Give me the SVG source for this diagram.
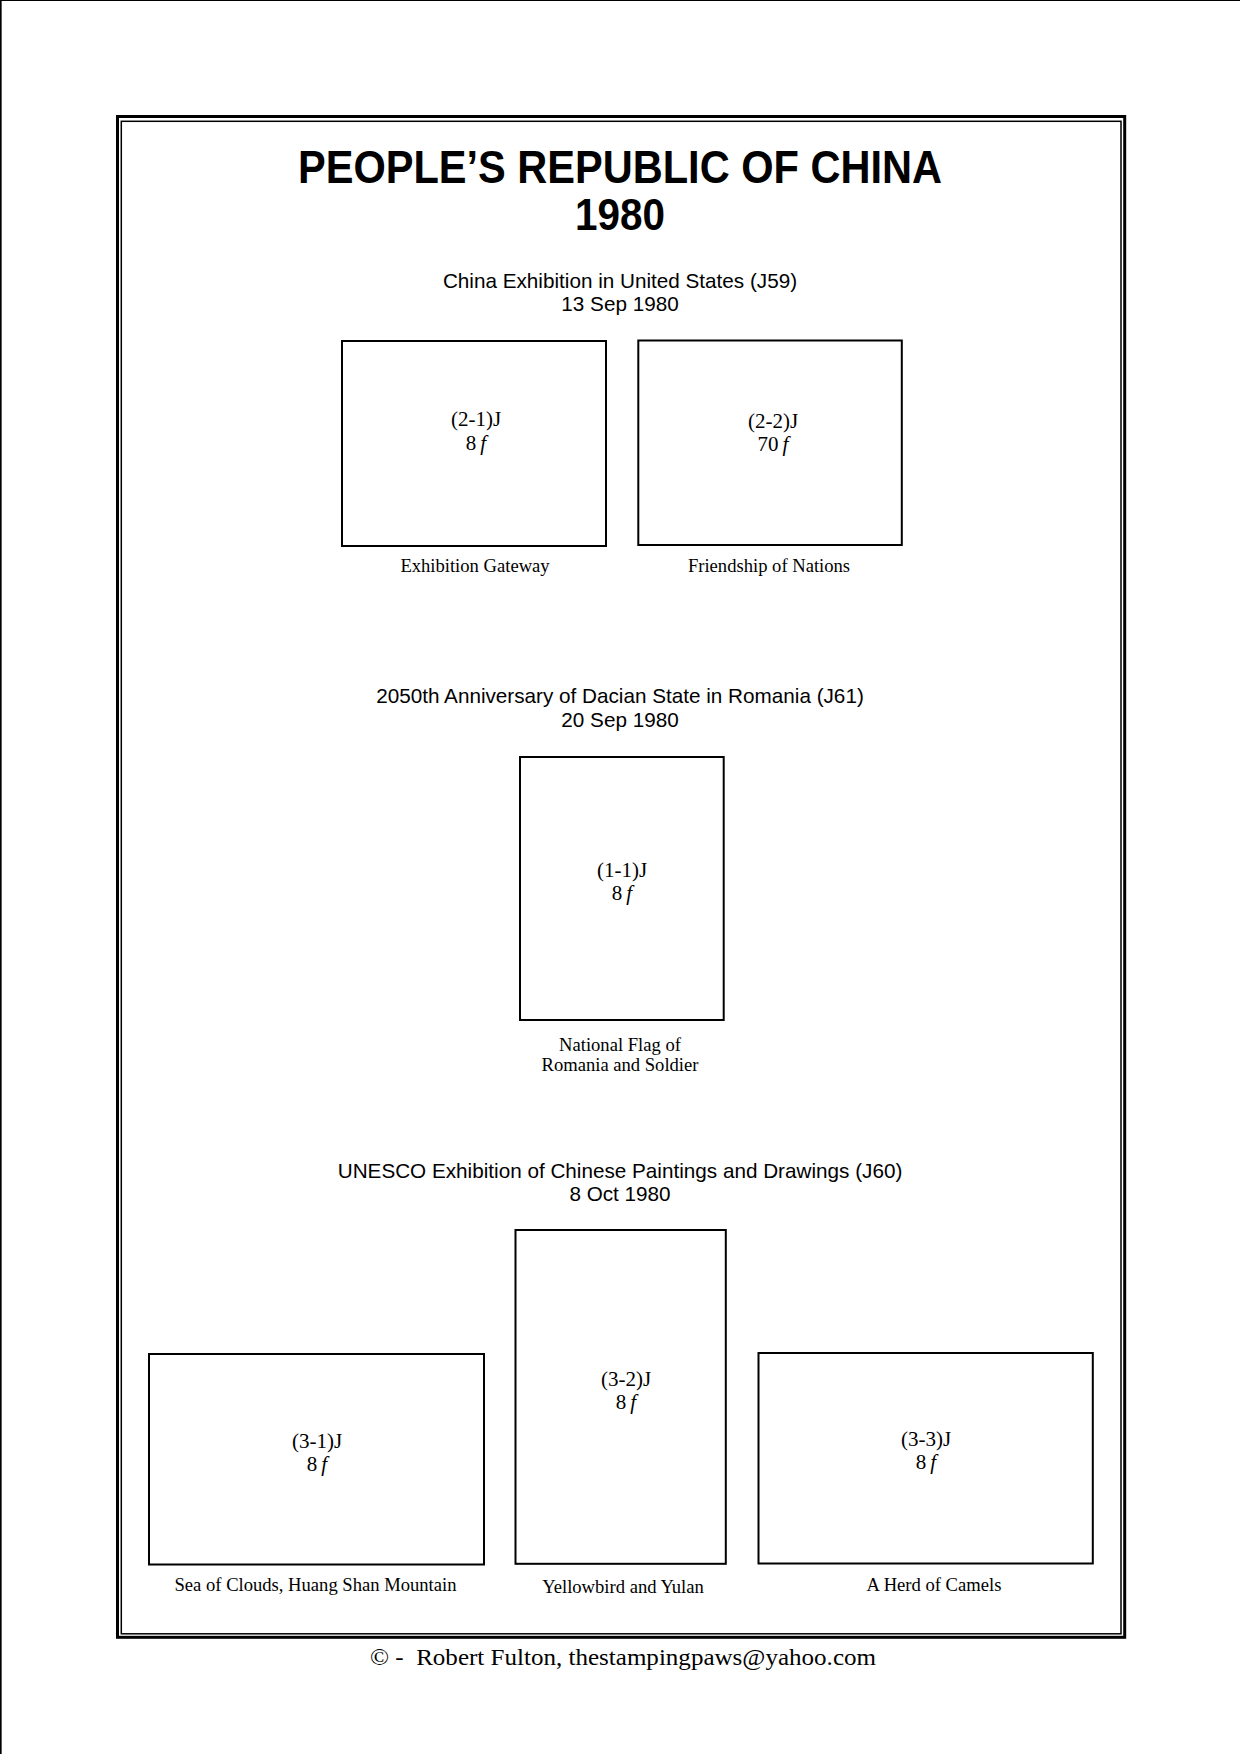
<svg xmlns="http://www.w3.org/2000/svg" width="1240" height="1754" viewBox="0 0 1240 1754">
<style>
.stamp{fill:none;stroke:#000;stroke-width:2}
.lbl{font-family:"Liberation Serif","Times New Roman",serif;font-size:21px;text-anchor:middle;fill:#000}
.cap{font-family:"Liberation Serif","Times New Roman",serif;font-size:18.6px;text-anchor:middle;fill:#000}
.sub{font-family:"Liberation Sans",Arial,sans-serif;font-size:20.7px;text-anchor:middle;fill:#000}
.ttl{font-family:"Liberation Sans",Arial,sans-serif;font-weight:bold;text-anchor:middle;fill:#000}
.it{font-style:italic}
</style>
<rect x="0" y="0" width="1240" height="1754" fill="#fff"/>
<g id="page-edge">
<line x1="0.8" y1="0" x2="0.8" y2="1754" stroke="#000" stroke-width="1.7"/>
<line x1="0" y1="0.5" x2="1240" y2="0.5" stroke="#000" stroke-width="1"/>
</g>
<g id="frame">
<rect x="117.5" y="116.5" width="1007.2" height="1520.8" fill="none" stroke="#000" stroke-width="3"/>
<rect x="121.3" y="121.3" width="999.7" height="1512.5" fill="none" stroke="#000" stroke-width="1.5"/>
</g>
<g id="title">
<text class="ttl" x="620" y="183" font-size="46" textLength="644" lengthAdjust="spacingAndGlyphs">PEOPLE’S REPUBLIC OF CHINA</text>
<text class="ttl" x="620" y="230" font-size="44" textLength="90" lengthAdjust="spacingAndGlyphs">1980</text>
</g>
<g id="issue-j59">
<text class="sub" x="620" y="288">China Exhibition in United States (J59)</text>
<text class="sub" x="620" y="311">13 Sep 1980</text>
</g>
<g id="stamp-2-1">
<rect class="stamp" x="342" y="341" width="264" height="205"/>
<text class="lbl" x="476" y="426">(2-1)J</text>
<text class="lbl" x="476" y="450">8<tspan class="it" dx="4">f</tspan></text>
<text class="cap" x="475" y="572">Exhibition Gateway</text>
</g>
<g id="stamp-2-2">
<rect class="stamp" x="638.3" y="340.5" width="263.5" height="204.5"/>
<text class="lbl" x="773" y="428">(2-2)J</text>
<text class="lbl" x="773" y="451">70<tspan class="it" dx="4">f</tspan></text>
<text class="cap" x="769" y="572">Friendship of Nations</text>
</g>
<g id="issue-j61">
<text class="sub" x="620" y="703">2050th Anniversary of Dacian State in Romania (J61)</text>
<text class="sub" x="620" y="727">20 Sep 1980</text>
</g>
<g id="stamp-1-1">
<rect class="stamp" x="520" y="757" width="203.7" height="263"/>
<text class="lbl" x="622" y="876.5">(1-1)J</text>
<text class="lbl" x="622" y="899.5">8<tspan class="it" dx="4">f</tspan></text>
<text class="cap" x="620" y="1051">National Flag of</text>
<text class="cap" x="620" y="1071">Romania and Soldier</text>
</g>
<g id="issue-j60">
<text class="sub" x="620" y="1178">UNESCO Exhibition of Chinese Paintings and Drawings (J60)</text>
<text class="sub" x="620" y="1201">8 Oct 1980</text>
</g>
<g id="stamp-3-1">
<rect class="stamp" x="149" y="1354" width="335" height="210.5"/>
<text class="lbl" x="317" y="1447.5">(3-1)J</text>
<text class="lbl" x="317" y="1470.5">8<tspan class="it" dx="4">f</tspan></text>
<text class="cap" x="315.5" y="1591">Sea of Clouds, Huang Shan Mountain</text>
</g>
<g id="stamp-3-2">
<rect class="stamp" x="515.5" y="1230" width="210.3" height="333.8"/>
<text class="lbl" x="626" y="1385.5">(3-2)J</text>
<text class="lbl" x="626" y="1409">8<tspan class="it" dx="4">f</tspan></text>
<text class="cap" x="623" y="1593">Yellowbird and Yulan</text>
</g>
<g id="stamp-3-3">
<rect class="stamp" x="758.5" y="1353" width="334.3" height="210.5"/>
<text class="lbl" x="926" y="1446">(3-3)J</text>
<text class="lbl" x="926" y="1469">8<tspan class="it" dx="4">f</tspan></text>
<text class="cap" x="934" y="1591">A Herd of Camels</text>
</g>
<g id="connectors"></g>
<g id="footer">
<text x="623" y="1664.5" font-family="'Liberation Serif','Times New Roman',serif" font-size="23" text-anchor="middle" xml:space="preserve" textLength="506" lengthAdjust="spacingAndGlyphs">© -  Robert Fulton, thestampingpaws@yahoo.com</text>
</g>
</svg>
